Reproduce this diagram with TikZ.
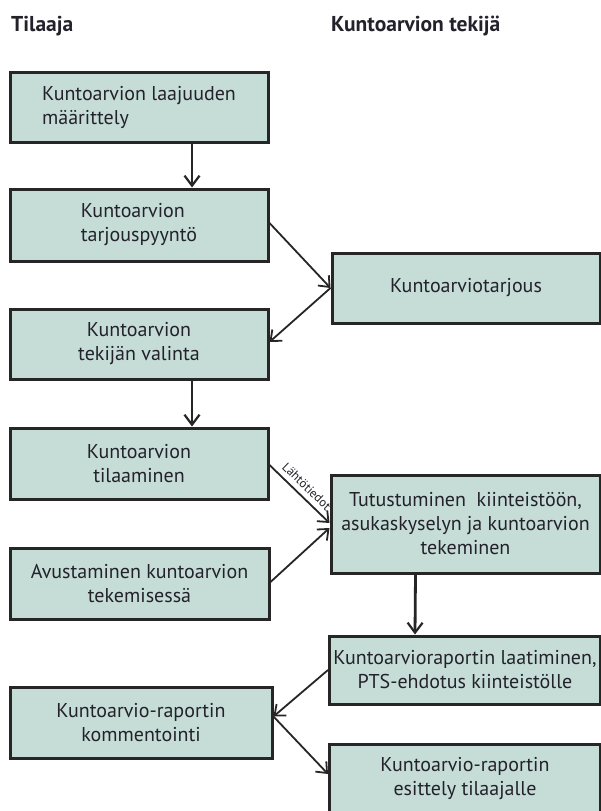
\documentclass[tikz,border=0pt]{standalone}
\usepackage{fontspec}
\setmainfont{PT Sans}
\usetikzlibrary{arrows.meta}
\definecolor{boxfill}{HTML}{C5DDD6}
\definecolor{boxline}{HTML}{262626}
\definecolor{txt}{HTML}{23212A}
\begin{document}
\begin{tikzpicture}[x=1pt,y=-1pt,
  box/.style={draw=boxline, line width=3pt, fill=boxfill, inner sep=0pt, align=center,
    text=txt, font={\fontsize{20}{24}\selectfont}},
  hdr/.style={anchor=base west, inner sep=0pt, text=txt, font={\fontsize{21.5}{24}\selectfont\bfseries}},
  arr/.style={draw=boxline, line width=1.8pt, -{Straight Barb[length=9pt,width=15pt,line width=1.8pt]}},
  varr/.style={draw=boxline, line width=2.8pt, -{Straight Barb[length=10pt,width=15pt,line width=2.2pt]}}
]
\useasboundingbox (0,0) rectangle (601,811);
\node[hdr] (h1) at (11,31) {Tilaaja};
\node[hdr] (h2) at (331,31) {Kuntoarvion tekijä};

\node[box, align=left, minimum width=258pt, minimum height=70pt] (b1) at (139,107) {Kuntoarvion laajuuden\\määrittely};
\node[box, align=left, minimum width=258pt, minimum height=72pt] (b2) at (139,225) {Kuntoarvion\\tarjouspyyntö};
\node[box, minimum width=258pt, minimum height=70pt] (b3) at (139,344) {Kuntoarvion\\tekijän valinta};
\node[box, minimum width=258pt, minimum height=71pt] (b4) at (139,463.5) {Kuntoarvion\\tilaaminen};
\node[box, minimum width=259pt, minimum height=71pt] (b5) at (139.5,583.5) {Avustaminen kuntoarvion\\tekemisessä};
\node[box, minimum width=262pt, minimum height=71pt] (b6) at (141,722.5) {Kuntoarvio-raportin\\kommentointi};

\node[box, minimum width=268pt, minimum height=70pt] (r1) at (466,288) {Kuntoarviotarjous};
\node[box, minimum width=269pt, minimum height=98pt] (r2) at (465.5,524) {Tutustuminen\ \ kiinteistöön,\\asukaskyselyn ja kuntoarvion\\tekeminen};
\node[box, minimum width=271pt, minimum height=68pt] (r3) at (465,670) {Kuntoarvioraportin laatiminen,\\PTS-ehdotus kiinteistölle};
\node[box, minimum width=271pt, minimum height=70pt] (r4) at (465,779) {Kuntoarvio-raportin\\esittely tilaajalle};

\draw[varr] ([xshift=53pt]b1.south) -- ([xshift=53pt]b2.north);
\draw[arr] ([yshift=2pt]b2.east) -- (r1.west);
\draw[arr] (r1.west) -- ([yshift=2pt]b3.east);
\draw[varr] ([xshift=53pt]b3.south) -- ([xshift=53pt]b4.north);
\draw[arr] ([yshift=-1.5pt]b4.east) -- node[pos=0.5, sloped, above=5pt, inner sep=0pt, text=txt, font={\fontsize{12.5}{14}\selectfont}] (lt) {Lähtötiedot} ([yshift=1pt]r2.west);
\draw[arr] ([yshift=1.5pt]b5.east) -- ([yshift=-4pt]r2.west);
\draw[varr] ([xshift=-50pt]r2.south) -- ([xshift=-50pt]r3.north);
\draw[arr] (r3.west) -- ([yshift=6pt]b6.east);
\draw[arr] ([yshift=6pt]b6.east) -- ([yshift=5pt]r4.west);
\end{tikzpicture}
\end{document}
